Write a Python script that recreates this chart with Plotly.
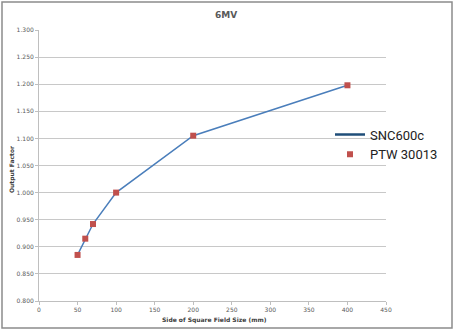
import plotly.graph_objects as go

field_size = [50, 60, 70, 100, 200, 400]
snc600c = [0.885, 0.915, 0.942, 1.000, 1.105, 1.198]
ptw30013 = [0.885, 0.915, 0.942, 1.000, 1.105, 1.198]
y_ticks = [0.80, 0.85, 0.90, 0.95, 1.00, 1.05, 1.10, 1.15, 1.20, 1.25, 1.30]
x_ticks = [0, 50, 100, 150, 200, 250, 300, 350, 400, 450]

W, H = 457, 332
L, R, T, B = 39, 386, 30, 301

def px(x):
    return (x - L) / (R - L)

def py(y):
    return (B - y) / (B - T)

tick_font = dict(family="DejaVu Sans", size=6, color="#595959")

fig = go.Figure()
fig.add_trace(go.Scatter(
    x=field_size, y=snc600c, mode="lines", name="SNC600c", showlegend=False,
    line=dict(color="#4a7ebb", width=1.5),
))
# legend entry (legend in the source uses a darker, thicker line swatch)
fig.add_trace(go.Scatter(
    x=[None], y=[None], mode="lines", name="SNC600c",
    line=dict(color="#1f4e79", width=2.5),
))
fig.add_trace(go.Scatter(
    x=field_size, y=ptw30013, mode="markers", name="PTW 30013",
    marker=dict(color="#c0504d", symbol="square", size=6),
))

fig.update_layout(
    width=W, height=H,
    margin=dict(l=L, r=W - R, t=T, b=H - B, pad=0),
    paper_bgcolor="white", plot_bgcolor="white",
    showlegend=True,
    legend=dict(
        x=px(330), y=py(144.5), xanchor="left", yanchor="middle",
        font=dict(family="Roboto", size=13, color="#222222"),
        bgcolor="rgba(0,0,0,0)", tracegroupgap=0,
    ),
    xaxis=dict(
        range=[0, 450], tickvals=x_ticks, ticktext=[str(v) for v in x_ticks],
        showgrid=False, zeroline=False, showline=True, linecolor="#bfbfbf", linewidth=1,
        ticks="outside", ticklen=3, tickcolor="#bfbfbf", tickfont=tick_font,
    ),
    yaxis=dict(
        range=[0.8, 1.3], tickvals=y_ticks, ticktext=[f"{v:.3f}" for v in y_ticks],
        showgrid=True, gridcolor="#c8c8c8", gridwidth=1, zeroline=False,
        showline=True, linecolor="#bfbfbf", linewidth=1,
        ticks="outside", ticklen=3, tickcolor="#bfbfbf", tickfont=tick_font,
    ),
    shapes=[dict(
        type="rect", xref="paper", yref="paper",
        x0=px(2), x1=px(452), y0=py(328), y1=py(2),
        line=dict(color="#8c8c8c", width=1.5), fillcolor="rgba(0,0,0,0)", layer="below",
    )],
    annotations=[
        dict(text="<b>6MV</b>", xref="paper", yref="paper", x=px(226), y=py(15),
             showarrow=False, xanchor="center", yanchor="middle",
             font=dict(family="DejaVu Sans", size=9, color="#595959")),
        dict(text="<b>Output Factor</b>", xref="paper", yref="paper", x=px(12), y=py(170),
             showarrow=False, textangle=-90, xanchor="center", yanchor="middle",
             font=dict(family="DejaVu Sans", size=6, color="#404040")),
        dict(text="<b>Side of Square Field Size (mm)</b>", xref="paper", yref="paper",
             x=px(214), y=py(320), showarrow=False, xanchor="center", yanchor="middle",
             font=dict(family="DejaVu Sans", size=6, color="#404040")),
    ],
)

fig.write_html("out.html")
